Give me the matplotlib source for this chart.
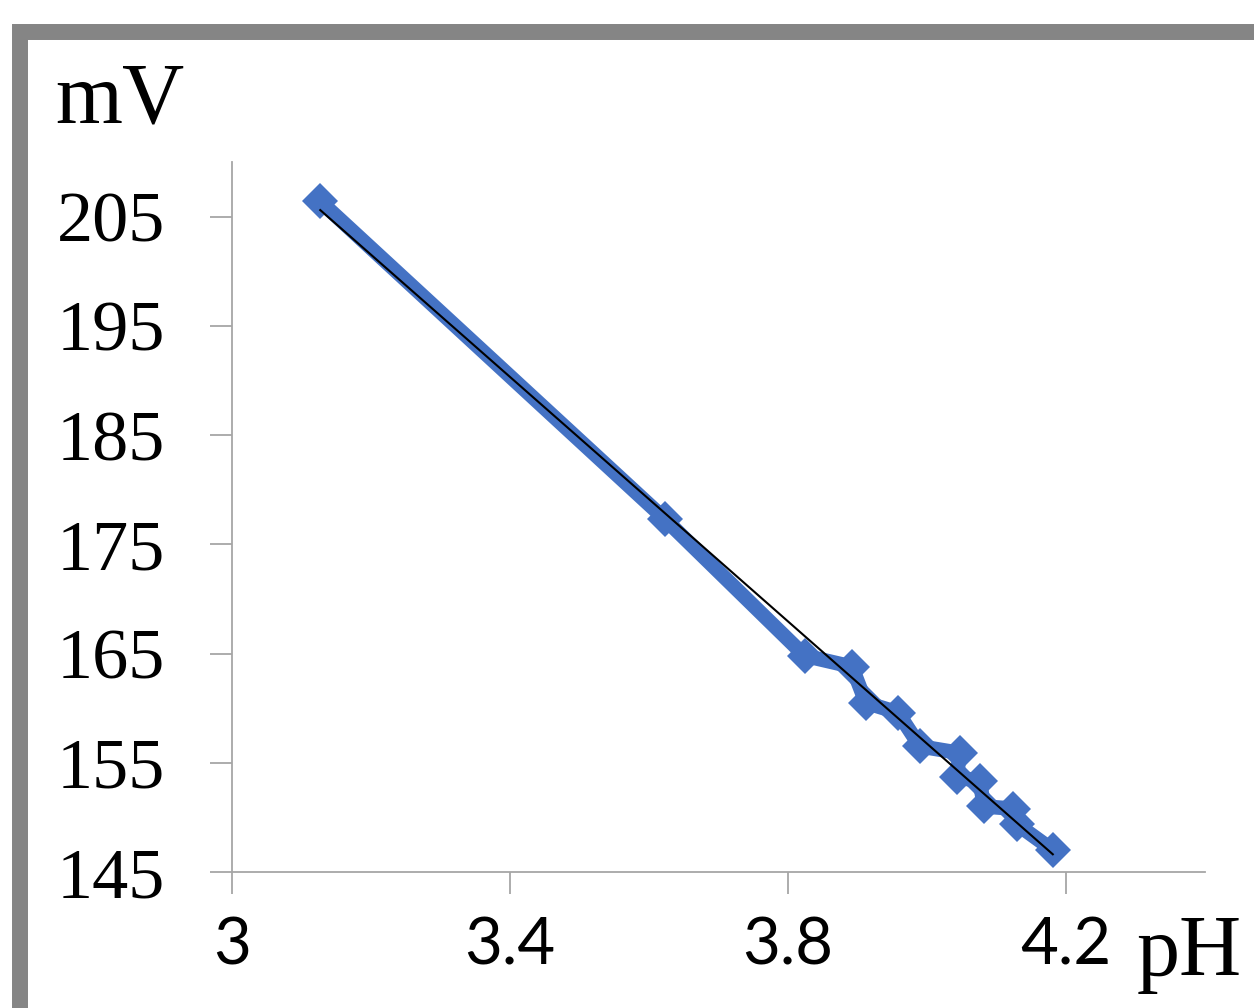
import numpy as np
import matplotlib
matplotlib.use("Agg")
import matplotlib.pyplot as plt
from matplotlib.patches import Rectangle

# Electrode response: potential (mV) against pH
ph = [3.127, 3.623, 3.824, 3.892, 3.912, 3.958, 3.990, 4.047, 4.043,
      4.076, 4.082, 4.124, 4.129, 4.181]
mv = [206.4, 177.3, 164.8, 163.8, 160.5, 159.6, 156.5, 155.9, 153.7,
      153.3, 151.0, 150.8, 149.4, 147.0]

x_ticks = [3, 3.4, 3.8, 4.2]
x_tick_labels = ["3", "3.4", "3.8", "4.2"]
y_ticks = [145, 155, 165, 175, 185, 195, 205]
y_tick_labels = ["145", "155", "165", "175", "185", "195", "205"]

W, H, DPI = 1254, 1008, 100
fig = plt.figure(figsize=(W / DPI, H / DPI), dpi=DPI)

# chart border (gray frame, partly running off the canvas)
fig.patches.append(Rectangle((20 / W, (H - 1014) / H), 1250 / W, 982 / H,
                             transform=fig.transFigure, fill=False,
                             edgecolor="#858585", linewidth=11.5))

ax = fig.add_axes([232 / W, 136 / H, (1205 - 232) / W, (872 - 162) / H])
ax.set_xlim(3, 4.4)
ax.set_ylim(145, 210)

blue = "#4472C4"
ax.plot(ph, mv, color=blue, lw=10.5, solid_joinstyle="round",
        marker="D", markersize=18.5, markerfacecolor=blue,
        markeredgewidth=0, zorder=3, clip_on=False)

# linear trend line
k, b = np.polyfit(ph, mv, 1)
xs = np.array([min(ph), max(ph)])
ax.plot(xs, k * xs + b, color="black", lw=1.5, zorder=4)

for s in ["top", "right"]:
    ax.spines[s].set_visible(False)
for s in ["left", "bottom"]:
    ax.spines[s].set_color("#a6a6a6")
    ax.spines[s].set_linewidth(1.3)

ax.set_xticks(x_ticks)
ax.set_xticklabels(x_tick_labels, family="Lato", fontsize=47)
ax.set_yticks(y_ticks)
ax.set_yticklabels(y_tick_labels, family="Liberation Serif", fontsize=52)
ax.tick_params(axis="both", direction="out", length=16, width=1.3,
               color="#a6a6a6")
ax.tick_params(axis="y", pad=32)
ax.tick_params(axis="x", pad=16)

fig.text(55 / W, (H - 123) / H, "mV", family="Liberation Serif",
         fontsize=62, ha="left", va="baseline")
fig.text(1137 / W, (H - 975) / H, "pH", family="Liberation Serif",
         fontsize=62, ha="left", va="baseline")

fig.savefig("out.png", dpi=DPI)
